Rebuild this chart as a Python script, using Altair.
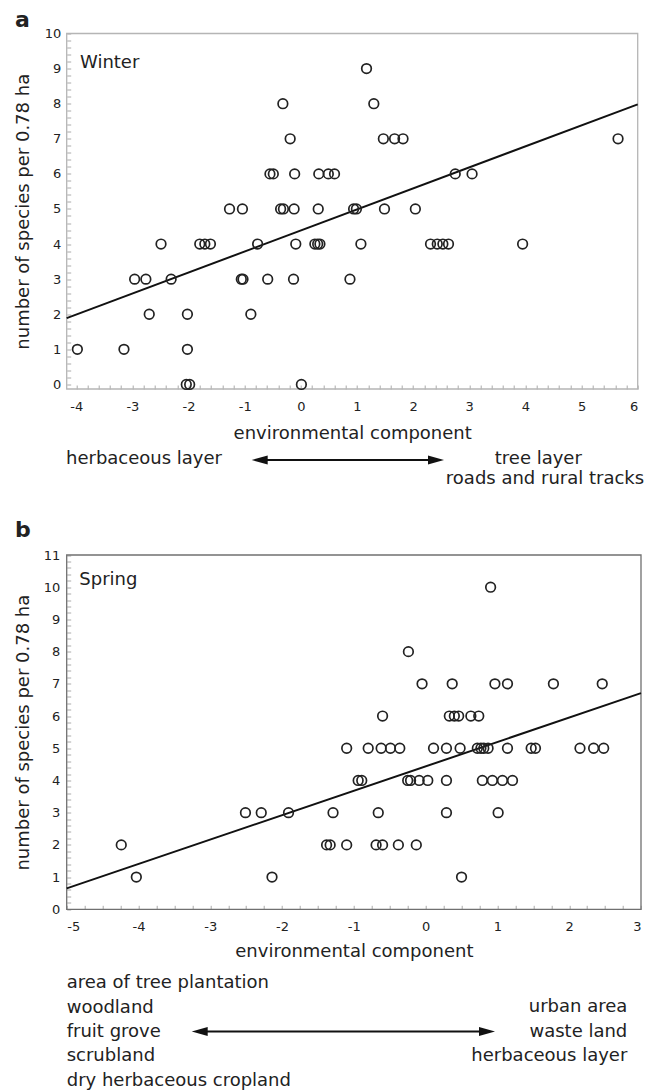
import altair as alt
import pandas as pd

# ---------------- data ----------------
# Panel a: Winter
winter_x = [1.17,
            -0.32, 1.30,
            -0.19, 1.47, 1.67, 1.82, 5.65,
            -0.55, -0.49, -0.11, 0.32, 0.49, 0.60, 2.75, 3.05,
            -1.27, -1.04, -0.36, -0.31, -0.12, 0.31, 0.94, 0.99, 1.49, 2.04,
            -2.49, -1.80, -1.71, -1.61, -0.77, -0.09, 0.25, 0.30, 0.34, 1.07, 2.31, 2.43, 2.53, 2.63, 3.95,
            -2.96, -2.76, -2.31, -1.06, -1.03, -0.59, -0.13, 0.875,
            -2.70, -2.02, -0.89,
            -3.98, -3.15, -2.02,
            -2.04, -1.98, 0.01]
winter_y = [9,
            8, 8,
            7, 7, 7, 7, 7,
            6, 6, 6, 6, 6, 6, 6, 6,
            5, 5, 5, 5, 5, 5, 5, 5, 5, 5,
            4, 4, 4, 4, 4, 4, 4, 4, 4, 4, 4, 4, 4, 4, 4,
            3, 3, 3, 3, 3, 3, 3, 3,
            2, 2, 2,
            1, 1, 1,
            0, 0, 0]
winter_fit_x = [-4.17, 6.0]
winter_fit_y = [1.89, 7.98]

# Panel b: Spring
spring_x = [0.905,
            -0.24,
            -0.05, 0.37, 0.965, 1.14, 1.78, 2.46,
            -0.60, 0.33, 0.40, 0.46, 0.63, 0.74,
            -1.10, -0.80, -0.62, -0.49, -0.36, 0.11, 0.29, 0.48, 0.72, 0.77, 0.81, 0.87, 1.14, 1.47, 1.53, 2.15, 2.34, 2.48,
            -0.94, -0.89, -0.25, -0.21, -0.09, 0.03, 0.29, 0.79, 0.93, 1.07, 1.21,
            -2.51, -2.29, -1.91, -1.29, -0.66, 0.29, 1.01,
            -4.24, -1.38, -1.33, -1.10, -0.69, -0.60, -0.38, -0.13,
            -4.03, -2.14, 0.50]
spring_y = [10,
            8,
            7, 7, 7, 7, 7, 7,
            6, 6, 6, 6, 6, 6,
            5, 5, 5, 5, 5, 5, 5, 5, 5, 5, 5, 5, 5, 5, 5, 5, 5, 5,
            4, 4, 4, 4, 4, 4, 4, 4, 4, 4, 4,
            3, 3, 3, 3, 3, 3, 3,
            2, 2, 2, 2, 2, 2, 2, 2,
            1, 1, 1]
spring_fit_x = [-5.0, 3.0]
spring_fit_y = [0.65, 6.71]

# axis ticks
winter_xticks = [-4, -3, -2, -1, 0, 1, 2, 3, 4, 5, 6]
winter_yticks = [0, 1, 2, 3, 4, 5, 6, 7, 8, 9, 10]
spring_xticks = [-5, -4, -3, -2, -1, 0, 1, 2, 3]
spring_yticks = [0, 1, 2, 3, 4, 5, 6, 7, 8, 9, 10, 11]
winter_xminor = [round(-4 + 0.2 * i, 2) for i in range(51)]
winter_yminor = [round(0.2 * i, 2) for i in range(51)]
spring_xminor = [round(-5 + 0.25 * i, 2) for i in range(33)]
spring_yminor = [round(0.2 * i, 2) for i in range(56)]

left_lines = ["area of tree plantation", "woodland", "fruit grove", "scrubland",
              "dry herbaceous cropland"]
right_lines = ["urban area", "waste land", "herbaceous layer"]

# ---------------- layout ----------------
FONT = "DejaVu Sans"
INK = "#222222"
PL, PT, PR = 58.7, 25.5, 3.0
W = 574.3
H = 1058.5
A_W, A_TOP, A_BOT = 571.0, 0.0, 355.5
B_W, B_TOP, B_BOT = 574.3, 521.5, 875.8

neg_label = "datum.value < 0 ? '-' + abs(datum.value) : '' + datum.value"

df_a = pd.DataFrame({"x": winter_x, "y": winter_y})
df_a_fit = pd.DataFrame({"x": winter_fit_x, "y": winter_fit_y})
df_b = pd.DataFrame({"x": spring_x, "y": spring_y})
df_b_fit = pd.DataFrame({"x": spring_fit_x, "y": spring_fit_y})
one = pd.DataFrame({"k": [0]})

xa = alt.Scale(domain=[-4.17, 6.0], range=[0, A_W], nice=False, zero=False)
ya = alt.Scale(domain=[-0.13, 10.0], range=[A_BOT, A_TOP], nice=False, zero=False)
xb = alt.Scale(domain=[-5.0, 3.0], range=[0, B_W], nice=False, zero=False)
yb = alt.Scale(domain=[0.0, 11.0], range=[B_BOT, B_TOP], nice=False, zero=False)

lab = dict(labelFont=FONT, labelFontSize=13, labelColor=INK, grid=False, domain=False,
           ticks=False, tickSize=0, titleFont=FONT, titleFontSize=18, titleColor=INK,
           titleFontWeight="normal")
minor = dict(labels=False, domain=False, grid=False, ticks=True, tickSize=4,
             tickColor="#aaaaaa", tickWidth=1, title=None)


def panel(df, dfit, xs, ys, xt, yt, xm, ym, pw, top, bot, frame_color, lp, ttl_y):
    pts = alt.Chart(df).mark_point(shape="circle", size=92, filled=False, color=INK,
                                   strokeWidth=1.7, opacity=1).encode(
        x=alt.X("x:Q", scale=xs, axis=alt.Axis(
            orient="bottom", offset=bot - H, values=xt, labelExpr=neg_label,
            labelPadding=11, title="environmental component", titleY=ttl_y,
            titleBaseline="alphabetic", **lab)),
        y=alt.Y("y:Q", scale=ys, axis=alt.Axis(
            orient="left", values=yt, labelPadding=lp,
            title="number of species per 0.78 ha", titleX=-38.2, titleAngle=270,
            titleBaseline="alphabetic", **lab)),
    )
    fit = alt.Chart(dfit).mark_line(color="#111111", strokeWidth=2).encode(
        x=alt.X("x:Q", scale=xs, axis=alt.Axis(orient="top", offset=-bot, values=xm, **minor)),
        y=alt.Y("y:Q", scale=ys, axis=alt.Axis(orient="right", offset=-W, values=ym, **minor)),
    )
    frame = alt.Chart(one).mark_rect(filled=False, stroke=frame_color, strokeWidth=1.3).encode(
        x=alt.value(0), x2=alt.value(pw), y=alt.value(top), y2=alt.value(bot))
    return [frame, fit, pts]


def text(t, x, y, align="left", size=18, weight="normal", line_height=None):
    kw = dict(text=t, align=align, baseline="alphabetic", fontSize=size, font=FONT,
              color=INK, fontWeight=weight)
    if line_height is not None:
        kw["lineHeight"] = line_height
    return alt.Chart(one).mark_text(**kw).encode(x=alt.value(x), y=alt.value(y))


def arrow(x1, x2, y):
    line = alt.Chart(one).mark_rule(color="#111111", strokeWidth=2).encode(
        x=alt.value(x1 + 8), x2=alt.value(x2 - 8), y=alt.value(y))
    lh = alt.Chart(one).mark_point(shape="M0,0L2,-0.55L2,0.55Z", size=256, filled=True,
                                   color="#111111", opacity=1).encode(
        x=alt.value(x1), y=alt.value(y))
    rh = alt.Chart(one).mark_point(shape="M0,0L-2,-0.55L-2,0.55Z", size=256, filled=True,
                                   color="#111111", opacity=1).encode(
        x=alt.value(x2), y=alt.value(y))
    return [line, lh, rh]


layers = []
layers += panel(df_a, df_a_fit, xa, ya, winter_xticks, winter_yticks, winter_xminor,
                winter_yminor, A_W, A_TOP, A_BOT, "#b5b5b5", 6, 49.3)
layers += panel(df_b, df_b_fit, xb, yb, spring_xticks, spring_yticks, spring_xminor,
                spring_yminor, B_W, B_TOP, B_BOT, "#707070", 7, 47.4)

layers += [
    text("a", -51.7, -6.8, size=22, weight="bold"),
    text("Winter", 13.3, 34.5),
    text("herbaceous layer", -0.7, 430.5),
    text("tree layer", 471.6, 430.5, align="center"),
    text("roads and rural tracks", 478.3, 450.5, align="center"),
    text("b", -51.7, 503.5, size=22, weight="bold"),
    text("Spring", 12.6, 551.5),
    text(left_lines, 0, 954.8, line_height=24.4),
    text(right_lines, 560.6, 978.8, align="right", line_height=24.4),
]
layers += arrow(185.0, 377.3, 426.5)
layers += arrow(125.0, 428.3, 998.0)

chart = alt.layer(*layers).resolve_scale(x="independent", y="independent").properties(
    width=W, height=H,
    autosize=alt.AutoSizeParams(type="none"),
    padding={"left": PL, "top": PT, "right": PR, "bottom": 0},
    background="white",
).configure_view(stroke="transparent")

chart.save("out.html", embed_options={"renderer": "svg", "actions": False})
